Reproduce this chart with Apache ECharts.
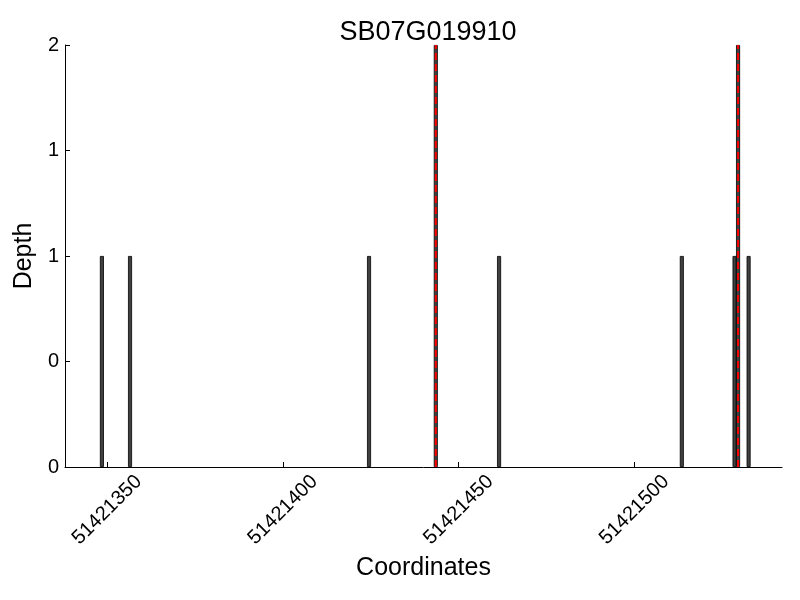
<!DOCTYPE html>
<html><head><meta charset="utf-8">
<script src="https://cdn.jsdelivr.net/npm/echarts@6/dist/echarts.min.js"></script>
<style>html,body{margin:0;padding:0;background:#fff}#c{width:800px;height:600px}</style>
</head><body><div id="c"></div>
<script>
const title = 'SB07G019910';
const positions = [51421348.5, 51421356.5, 51421424.5, 51421443.5, 51421461.5, 51421513.5, 51421528.5, 51421529.5, 51421532.5];
const depths = [1, 1, 1, 2, 1, 1, 1, 2, 1];
const markedPositions = [51421443.5, 51421529.5];
const xTicks = [51421350, 51421400, 51421450, 51421500];
const yTicks = [0, 0.5, 1, 1.5, 2];

const font = 'Liberation Sans, Arial, sans-serif';
const chart = echarts.init(document.getElementById('c'));
const series = [{
  type: 'bar',
  data: positions.map((p, i) => [p, depths[i]]),
  barWidth: 4,
  itemStyle: {color: '#404040', borderColor: '#000', borderWidth: 0.8},
  z: 2
}];
markedPositions.forEach(p => series.push({
  type: 'line',
  data: [[p, 0], [p, 2]],
  symbol: 'none',
  lineStyle: {color: '#ff0000', width: 2, type: [7, 4]},
  z: 5,
  silent: true
}));
chart.setOption({
  animation: false,
  title: {text: title, left: 423, textAlign: 'center', top: 14, textStyle: {fontFamily: font, fontSize: 27, fontWeight: 'normal', color: '#000'}},
  grid: {left: 65, right: 18, top: 45, bottom: 133},
  xAxis: {
    type: 'value', min: 51421338, max: 51421542,
    splitLine: {show: false},
    axisLine: {lineStyle: {color: '#000', width: 1}},
    axisTick: {inside: true, length: 5, lineStyle: {color: '#000'}, customValues: xTicks},
    axisLabel: {customValues: xTicks, rotate: 45, align: 'center', verticalAlign: 'middle', margin: 43,
      fontFamily: font, fontSize: 20, color: '#000', formatter: v => String(v)},
    name: 'Coordinates', nameLocation: 'middle', nameGap: 89,
    nameTextStyle: {fontFamily: font, fontSize: 25, color: '#000'}
  },
  yAxis: {
    type: 'value', min: 0, max: 2, interval: 0.5,
    splitLine: {show: false},
    axisLine: {show: true, lineStyle: {color: '#000', width: 1}},
    axisTick: {show: true, inside: true, length: 5, lineStyle: {color: '#000'}},
    axisLabel: {fontFamily: font, fontSize: 20, color: '#000', margin: 6, formatter: v => String(Math.floor(v))},
    name: 'Depth', nameLocation: 'middle', nameGap: 28, nameRotate: 90,
    nameTextStyle: {fontFamily: font, fontSize: 25, color: '#000'}
  },
  series: series
});
</script></body></html>
